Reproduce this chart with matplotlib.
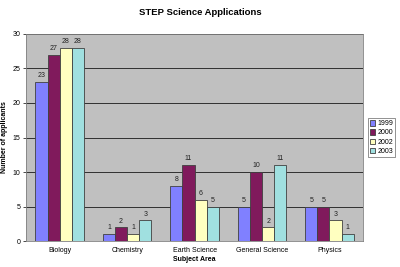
import matplotlib
matplotlib.use("Agg")
import matplotlib.pyplot as plt
import numpy as np

subjects = ["Biology", "Chemistry", "Earth Science", "General Science", "Physics"]
years = ["1999", "2000", "2002", "2003"]
counts_1999 = [23, 1, 8, 5, 5]
counts_2000 = [27, 2, 11, 10, 5]
counts_2002 = [28, 1, 6, 2, 3]
counts_2003 = [28, 3, 5, 11, 1]
colors = ["#8080FF", "#801A5C", "#FFFFC0", "#A0E0E0"]

plt.rcParams["font.family"] = ["Liberation Sans", "DejaVu Sans"]

fig = plt.figure(figsize=(4, 2.67), dpi=100)
ax = fig.add_axes([0.065, 0.097, 0.843, 0.776])
ax.set_facecolor("#C0C0C0")

x = np.arange(len(subjects))
width = 0.18
series = [counts_1999, counts_2000, counts_2002, counts_2003]
for i, (vals, year, col) in enumerate(zip(series, years, colors)):
    pos = x + (i - 1.5) * width
    bars = ax.bar(pos, vals, width, color=col, edgecolor="#404040",
                  linewidth=0.6, label=year, zorder=3)
    for b, v in zip(bars, vals):
        ax.text(b.get_x() + b.get_width() / 2, v + 0.4, str(v),
                ha="center", va="bottom", fontsize=5, color="#222222")

ax.set_xlim(-0.5, len(subjects) - 0.5)
ax.set_ylim(0, 30)
ax.set_yticks(range(0, 31, 5))
ax.set_xticks(x)
ax.set_xticklabels(subjects, fontsize=5)
ax.tick_params(axis="y", labelsize=5, length=2, width=0.5, pad=2)
ax.tick_params(axis="x", length=0, pad=4)
ax.yaxis.grid(True, color="#303030", linewidth=0.7, zorder=0)
for s in ax.spines.values():
    s.set_color("#808080")
    s.set_linewidth(0.6)

ax.set_xlabel("Subject Area", fontsize=5, fontweight="bold", labelpad=2)
ax.set_ylabel("Number of applicants", fontsize=5, fontweight="bold")
ax.yaxis.set_label_coords(-0.053, 0.5)
fig.suptitle("STEP Science Applications", fontsize=6.8, fontweight="bold", y=0.97)

leg = ax.legend(loc="center left", bbox_to_anchor=(1.013, 0.5), fontsize=5,
                frameon=True, fancybox=False, edgecolor="#404040",
                handlelength=0.8, handleheight=0.8, handletextpad=0.3,
                borderpad=0.3, labelspacing=0.3, borderaxespad=0)
leg.get_frame().set_linewidth(0.5)

fig.savefig("out.png", dpi=100)
